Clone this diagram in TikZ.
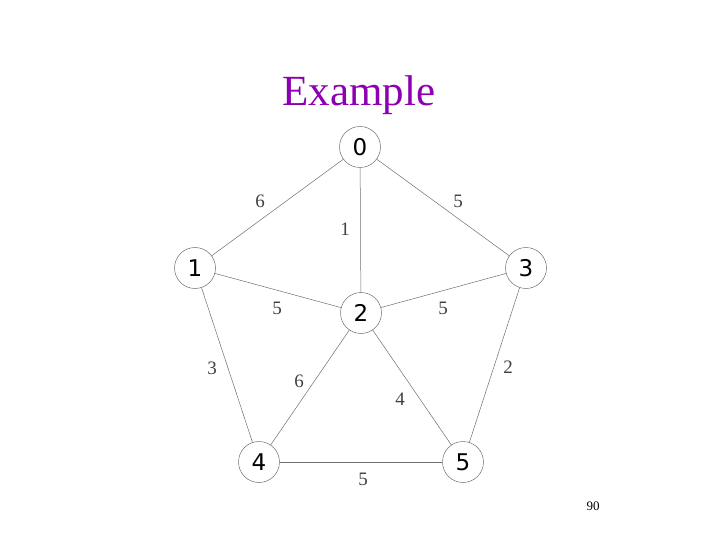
\documentclass[tikz,border=0pt]{standalone}
\usepackage{fontspec}
\setmainfont{Liberation Serif}
\newfontfamily\nodefont{DejaVu Sans}
\definecolor{titlepurple}{RGB}{140,0,178}
\definecolor{edgegray}{RGB}{110,110,110}
\begin{document}
\begin{tikzpicture}[x=1pt,y=-1pt,
  vert/.style={circle,draw=edgegray,line width=0.5pt,minimum size=41pt,inner sep=0pt,font=\nodefont\fontsize{23}{23}\selectfont},
  edge/.style={draw=edgegray,line width=0.5pt},
  wlabel/.style={font=\fontsize{19}{19}\selectfont,text=black!75}]
\useasboundingbox (0,0) rectangle (720,540);
\node[font=\fontsize{43}{43}\selectfont,text=titlepurple] (title) at (359,95) {Example};
\node[vert] (n0) at (360,147) {0};
\node[vert] (n1) at (195,268) {1};
\node[vert] (n3) at (526,268) {3};
\node[vert] (n2) at (361,313) {2};
\node[vert] (n4) at (259,462) {4};
\node[vert] (n5) at (463,462) {5};
\draw[edge] (n0) -- (n1);
\draw[edge] (n0) -- (n2);
\draw[edge] (n0) -- (n3);
\draw[edge] (n1) -- (n2);
\draw[edge] (n3) -- (n2);
\draw[edge] (n1) -- (n4);
\draw[edge] (n3) -- (n5);
\draw[edge] (n2) -- (n4);
\draw[edge] (n2) -- (n5);
\draw[edge] (n4) -- (n5);
\node[wlabel] (w01) at (260,201) {6};
\node[wlabel] (w02) at (345,229) {1};
\node[wlabel] (w03) at (458,201) {5};
\node[wlabel] (w12) at (277,308) {5};
\node[wlabel] (w32) at (443,308) {5};
\node[wlabel] (w14) at (212,368) {3};
\node[wlabel] (w24) at (299,381) {6};
\node[wlabel] (w25) at (400,399) {4};
\node[wlabel] (w35) at (508,367) {2};
\node[wlabel] (w45) at (363,479) {5};
\node[font=\fontsize{13}{13}\selectfont] (page) at (593,506) {90};
\end{tikzpicture}
\end{document}
